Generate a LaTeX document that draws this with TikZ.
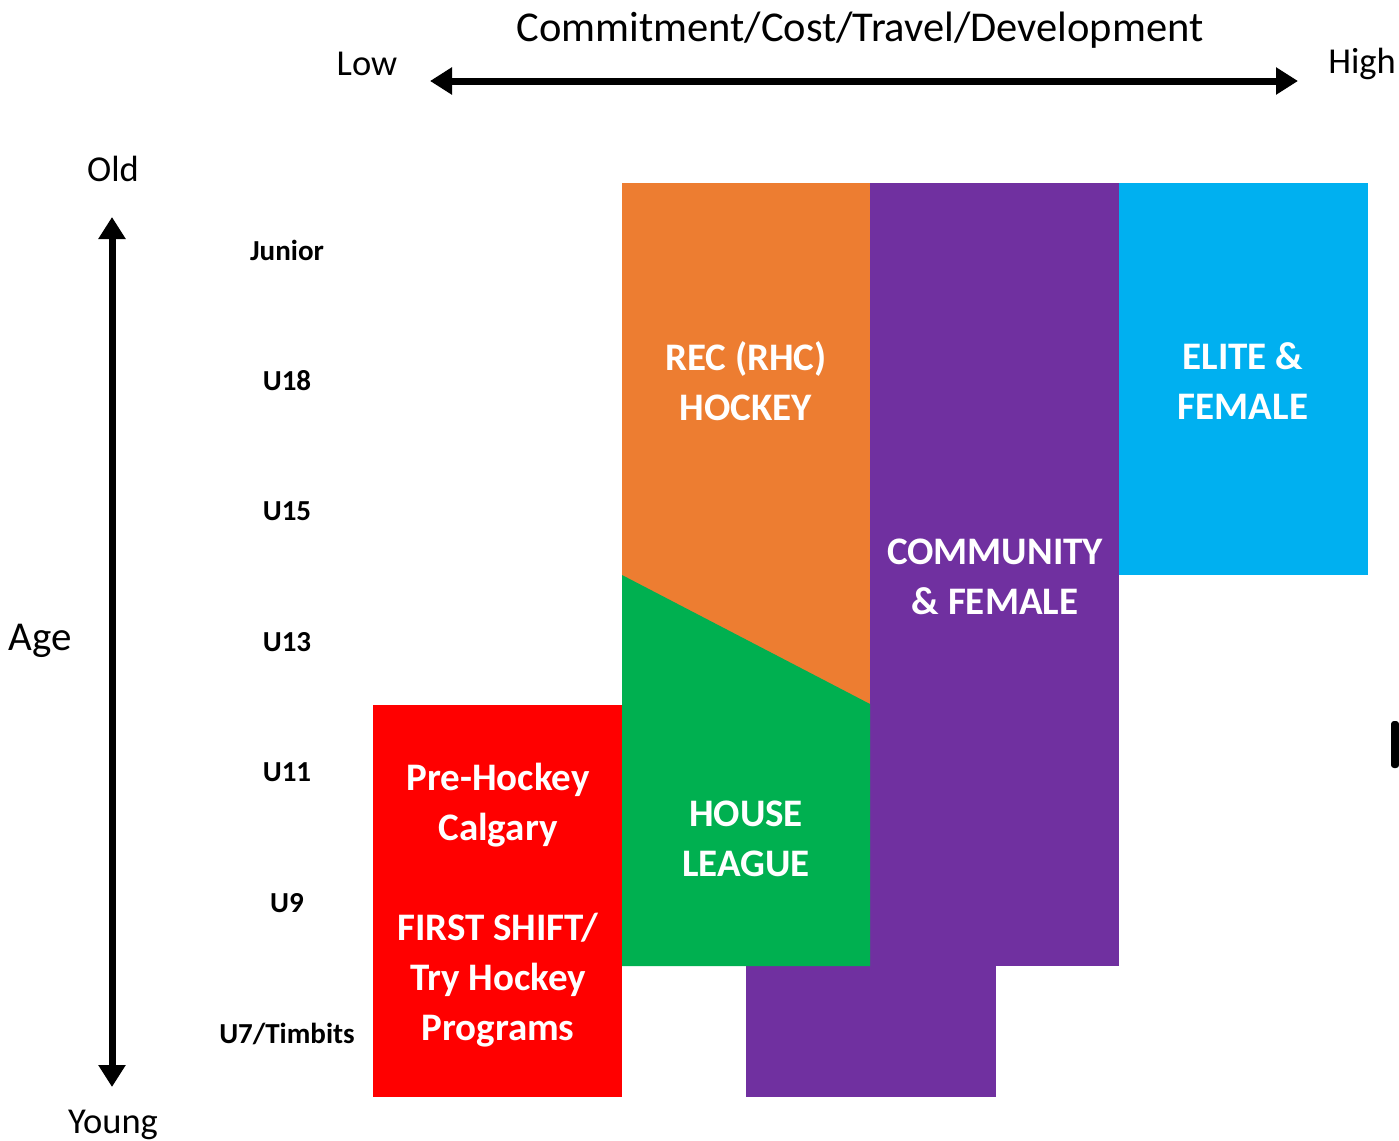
\documentclass[tikz,border=0pt]{standalone}
\usepackage{fontspec}
\setmainfont{Carlito}
\usetikzlibrary{arrows.meta}
\definecolor{recorange}{HTML}{ED7D31}
\definecolor{commpurple}{HTML}{7030A0}
\definecolor{eliteblue}{HTML}{00B0F0}
\definecolor{housegreen}{HTML}{00B050}
\definecolor{prered}{HTML}{FF0000}
\tikzset{
    both/.style={line width=7pt, {Triangle[length=22pt, width=26pt]}-{Triangle[length=22pt, width=26pt]}},
    block/.style={font=\fontsize{39}{50}\selectfont\bfseries, text=white, align=center, inner sep=0pt},
    agelabel/.style={font=\fontsize{29}{32}\selectfont\bfseries, inner sep=0pt},
    axtext/.style={font=\fontsize{36.5}{42}\selectfont, inner sep=0pt}
}
\begin{document}
\begin{tikzpicture}[x=1pt, y=-1pt]
    \useasboundingbox (0, 0) rectangle (1399, 1140);
        % blocks
        \fill[commpurple] (870, 183) rectangle (1119, 966);
        \fill[commpurple] (746, 966) rectangle (996, 1097);
        \fill[eliteblue] (1119, 183) rectangle (1368, 575);
        \fill[recorange] (622, 183) rectangle (870, 704);
        \fill[housegreen] (622, 575) -- (870, 704) -- (870, 966) -- (622, 966) -- cycle;
        \fill[prered] (373, 705) rectangle (622, 1097);
        \fill[rounded corners=3pt] (1391, 721) rectangle (1399, 768);

        \node[block] (rec) at (746, 381) {REC (RHC)\\HOCKEY};
        \node[block] (elite) at (1243, 381) {ELITE \&\\FEMALE};
        \node[block] (comm) at (995, 577) {COMMUNITY\\\& FEMALE};
        \node[block] (house) at (746, 839) {HOUSE\\LEAGUE};
        \node[block] (pre) at (498, 805) {Pre-Hockey\\Calgary};
        \node[block] (first) at (498, 980) {FIRST SHIFT/\\Try Hockey\\Programs};

        % horizontal axis
        \node[font=\fontsize{42.5}{48}\selectfont, inner sep=0pt] (title) at (860, 30) {Commitment/Cost/Travel/Development};
        \node[axtext] (low) at (367, 64) {Low};
        \node[axtext] (high) at (1362, 64) {High};
        \coordinate (lowend) at (430, 81);
        \coordinate (highend) at (1298, 81);
        \draw[both] (lowend) -- (highend);

        % vertical axis
        \node[axtext] (old) at (113, 169) {Old};
        \node[axtext] (young) at (113, 1125) {Young};
        \node[font=\fontsize{41}{46}\selectfont, inner sep=0pt] (age) at (40, 641) {Age};
        \coordinate (oldend) at (112, 217);
        \coordinate (youngend) at (112, 1087);
        \draw[both] (youngend) -- (oldend);

        \foreach \lab [count=\i from 0] in {Junior, U18, U15, U13, U11, U9, U7/Timbits} {
            \node[agelabel] (age\i) at (287, 250+130.6*\i) {\lab};
        }
\end{tikzpicture}
\end{document}
